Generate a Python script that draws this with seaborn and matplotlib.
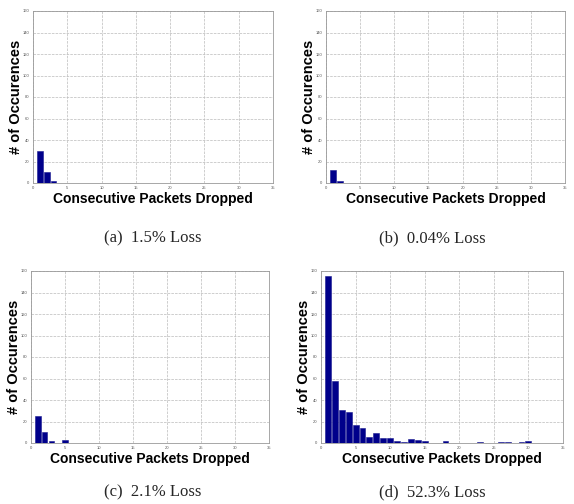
import numpy as np
import pandas as pd
import matplotlib
matplotlib.use('Agg')
import matplotlib.pyplot as plt
import seaborn as sns

# run lengths of consecutive dropped packets and how often they occurred
drops_a = [1, 2, 3]
count_a = [30, 10, 2]
drops_b = [1, 2]
count_b = [12, 2]
drops_c = [1, 2, 3, 5]
count_c = [25, 10, 2, 3]
drops_d = [1, 2, 3, 4, 5, 6, 7, 8, 9, 10, 11, 12, 13, 14, 15, 18, 23, 26, 27, 29, 30]
count_d = [155, 58, 31, 29, 17, 14, 6, 9, 5, 5, 2, 1, 4, 3, 2, 2, 1, 1, 1, 1, 2]

captions = ['(a)  1.5% Loss', '(b)  0.04% Loss', '(c)  2.1% Loss', '(d)  52.3% Loss']
panels = [(drops_a, count_a), (drops_b, count_b), (drops_c, count_c), (drops_d, count_d)]

sns.set_style('whitegrid')
plt.rcParams['font.family'] = ['Liberation Sans', 'DejaVu Sans']

W, H = 574, 504
fig = plt.figure(figsize=(W / 100, H / 100), dpi=100)

# axes boxes in pixels: left, top, right, bottom
boxes = [(33, 11, 273, 183), (326, 11, 565, 183),
         (31, 271, 269, 443), (321, 271, 563, 443)]
cap_pos = [(153, 238), (432, 238), (153, 492), (432, 492)]

for (drops, counts), (l, t, r, b), cap, (cx, cy) in zip(panels, boxes, captions, cap_pos):
    ax = fig.add_axes([l / W, 1 - b / H, (r - l) / W, (b - t) / H])
    df = pd.DataFrame({'drops': drops, 'count': counts})
    sns.barplot(data=df, x='drops', y='count', native_scale=True, color='#00008b',
                saturation=1, width=0.85, edgecolor='#1a1a90', linewidth=0.4, ax=ax)
    ax.set_xlim(0, 35)
    ax.set_ylim(0, 160)
    ax.set_xticks(np.arange(0, 36, 5))
    ax.set_yticks(np.arange(0, 161, 20))
    ax.tick_params(labelsize=3, length=1.5, pad=1, colors='#555555')
    ax.grid(True, linestyle='--', color='#bbbbbb', linewidth=0.5)
    for s in ax.spines.values():
        s.set_color('#999999')
        s.set_linewidth(0.6)
    ax.set_xlabel('Consecutive Packets Dropped', fontsize=10, fontweight='bold',
                  labelpad=1, color='black')
    ax.set_ylabel('# of Occurences', fontsize=10.5, fontweight='bold', labelpad=0,
                  color='black')
    fig.text(cx / W, 1 - cy / H, cap, ha='center', va='center', fontsize=12,
             family=['Liberation Serif'])

fig.savefig('out.png', dpi=100)
